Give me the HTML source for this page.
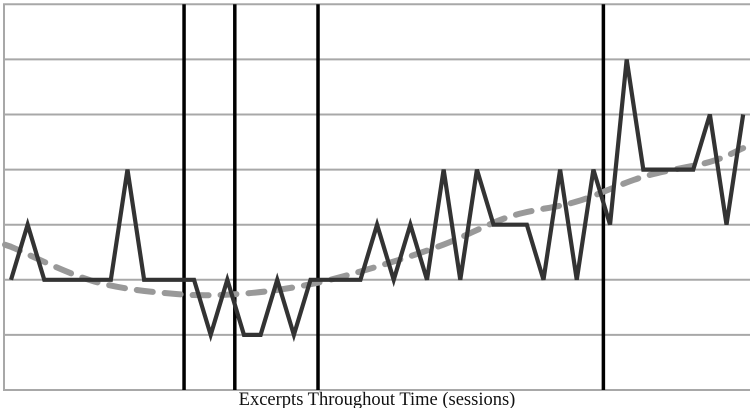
<!DOCTYPE html>
<html><head><meta charset="utf-8"><style>
html,body{margin:0;padding:0;background:#fff;width:750px;height:408px;overflow:hidden}
svg{display:block}
</style></head><body>
<svg id="chart" width="750" height="408" viewBox="0 0 750 408" xmlns="http://www.w3.org/2000/svg">
<g id="grid"></g>
<g id="phases"></g>
<g id="series"></g>
<text x="377" y="405" text-anchor="middle" font-family="Liberation Serif, serif" font-size="18.5" fill="#111">Excerpts Throughout Time (sessions)</text>
</svg>
<script>
const values = [2,3,2,2,2,2,2,4,2,2,2,2,1,2,1,1,2,1,2,2,2,2,3,2,3,2,4,2,4,3,3,3,2,4,2,4,3,6,4,4,4,4,5,3,5];
const phaseBreaks = [10.4, 13.45, 18.45, 35.6];
const trendIdx = [0,5,10,14,18,22,26,30,34,38,42,44];
const trendVals = [2.6,1.97,1.74,1.75,1.92,2.24,2.64,3.15,3.42,3.87,4.14,4.39];
const gridLevels = [0,1,2,3,4,5,6,7];

const NS='http://www.w3.org/2000/svg';
const xS = i => 11 + i*16.64;
const yS = v => 390 - v*55.1;
function mk(tag, attrs, parent){const e=document.createElementNS(NS,tag);for(const k in attrs)e.setAttribute(k,attrs[k]);parent.appendChild(e);return e;}
const grid=document.getElementById('grid');
for(const g of gridLevels){
  const l=mk('line',{x1:3,x2:750,y1:yS(g),y2:yS(g),stroke:'#a8a8a8','stroke-width':2},grid);
  
  
}
const la=mk('line',{x1:4,x2:4,y1:yS(7),y2:yS(0),stroke:'#a8a8a8','stroke-width':2},grid);


const ph=document.getElementById('phases');
for(const b of phaseBreaks){
  const l=mk('line',{x1:xS(b),x2:xS(b),y1:yS(7),y2:yS(0),stroke:'#000','stroke-width':3.5},ph);
  
  
}
const s=document.getElementById('series');
let td='';
for(let k=0;k<trendIdx.length-1;k++){
  const i0=trendIdx[Math.max(k-1,0)],i1=trendIdx[k],i2=trendIdx[k+1],i3=trendIdx[Math.min(k+2,trendIdx.length-1)];
  const v0=trendVals[Math.max(k-1,0)],v1=trendVals[k],v2=trendVals[k+1],v3=trendVals[Math.min(k+2,trendVals.length-1)];
  const p0=[xS(i0),yS(v0)],p1=[xS(i1),yS(v1)],p2=[xS(i2),yS(v2)],p3=[xS(i3),yS(v3)];
  if(k===0)td+='M'+(p1[0]-6)+','+(p1[1]-2);
  const c1=[p1[0]+(p2[0]-p0[0])/6,p1[1]+(p2[1]-p0[1])/6],c2=[p2[0]-(p3[0]-p1[0])/6,p2[1]-(p3[1]-p1[1])/6];
  td+=(k===0?' L'+p1[0]+','+p1[1]:'')+' C'+c1+' '+c2+' '+p2;
}
const tr=mk('path',{d:td,fill:'none',stroke:'#999','stroke-width':6,'stroke-dasharray':'16 12','stroke-linecap':'round'},s);


const pts=values.map((v,i)=>xS(i)+','+yS(v)).join(' ');
const dl=mk('polyline',{points:pts,fill:'none',stroke:'#333','stroke-width':4.2,'stroke-linejoin':'miter','stroke-miterlimit':4},s);


</script>
</body></html>
